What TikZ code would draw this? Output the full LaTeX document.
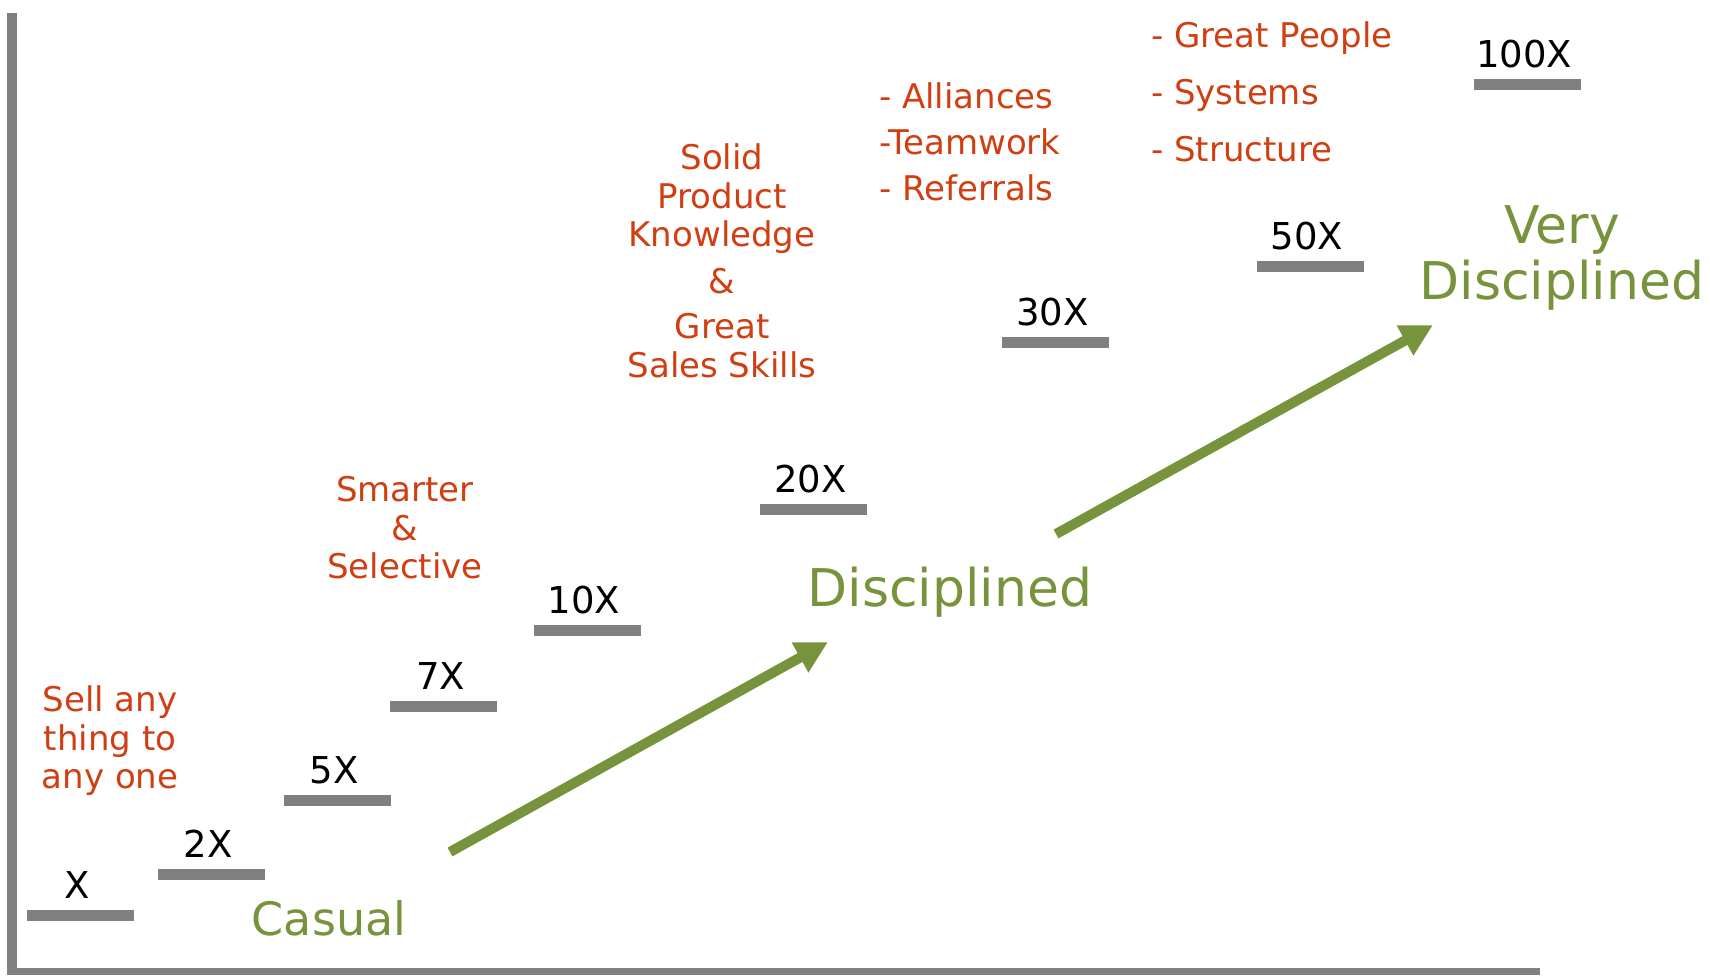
\documentclass[tikz,border=0pt]{standalone}
\usepackage{fontspec}
\setmainfont{DejaVu Sans}
\usetikzlibrary{positioning, arrows.meta}

\definecolor{stepgray}{RGB}{128,128,128}
\definecolor{noteorange}{RGB}{208,62,18}
\definecolor{stageolive}{RGB}{119,147,60}

\begin{document}
\begin{tikzpicture}[%
		x=1pt, y=-1pt,
		node distance=11pt,
		stepbar/.style={
			rectangle,
			fill=stepgray,
			minimum width=107pt,
			minimum height=11pt,
			inner sep=0pt
		},
		steplabel/.style={
			font=\fontsize{37}{40}\selectfont,
			inner sep=0pt,
			text depth=0pt,
			xshift=-3pt
		},
		note/.style={
			font=\fontsize{34}{38.5}\selectfont,
			text=noteorange,
			align=center
		},
		notelist/.style={
			font=\fontsize{34}{46}\selectfont,
			text=noteorange,
			align=left,
			anchor=west,
			inner sep=0pt
		},
		stage/.style={
			font=\fontsize{52}{56}\selectfont,
			text=stageolive,
			align=center
		},
		growth/.style={
			line width=10pt,
			stageolive,
			-{Triangle[length=32pt,width=32pt]}
		},
		axis/.style={
			stepgray
		}]

		\useasboundingbox (0,0) rectangle (1710,975);

		% AXES

		\coordinate (top) at (12,13);
		\coordinate (origin) at (12,975);
		\coordinate (horigin) at (7,971);
		\coordinate (right) at (1540,971);
		\draw[axis, line width=10pt] (top) -- (origin);
		\draw[axis, line width=7pt] (horigin) -- (right);

		% STEPS

		\node (s1) [stepbar] at (80.5,915) {};
		\node (s2) [stepbar] at (211,874) {};
		\node (s5) [stepbar] at (337,800) {};
		\node (s7) [stepbar] at (443.5,706) {};
		\node (s10) [stepbar] at (587,630) {};
		\node (s20) [stepbar] at (813.5,509) {};
		\node (s30) [stepbar] at (1055.5,342) {};
		\node (s50) [stepbar] at (1310,266) {};
		\node (s100) [stepbar] at (1527,84) {};

		\node (s1-lbl) [steplabel, above=of s1] {X};
		\node (s2-lbl) [steplabel, above=of s2] {2X};
		\node (s5-lbl) [steplabel, above=of s5] {5X};
		\node (s7-lbl) [steplabel, above=of s7] {7X};
		\node (s10-lbl) [steplabel, above=of s10] {10X};
		\node (s20-lbl) [steplabel, above=of s20] {20X};
		\node (s30-lbl) [steplabel, above=of s30] {30X};
		\node (s50-lbl) [steplabel, above=of s50] {50X};
		\node (s100-lbl) [steplabel, above=of s100] {100X};

		% NOTES

		\node (sell) [note] at (110,741) {Sell any\\thing to\\any one};
		\node (smart) [note] at (405,528) {Smarter\\\&\\Selective};
		\node (solid) [note] at (722,261) {Solid\\Product\\Knowledge\\[8pt]\&\\[7pt]Great\\Sales Skills};
		\node (alliances) [notelist] at (879,142) {- Alliances\\-Teamwork\\- Referrals};
		\node (people) [notelist, font=\fontsize{34}{57}\selectfont] at (1151,92) {- Great People\\- Systems\\- Structure};

		% STAGES

		\node (casual) [stage, font=\fontsize{46}{50}\selectfont] at (329,918) {Casual};
		\node (disc) [stage] at (950,592) {Disciplined};
		\node (vdisc) [stage] at (1562,258) {Very\\Disciplined};

		\coordinate (g1-from) at (450,852);
		\coordinate (g1-to) at (828,642);
		\coordinate (g2-from) at (1056,534);
		\coordinate (g2-to) at (1433,325);
		\draw[growth] (g1-from) -- (g1-to);
		\draw[growth] (g2-from) -- (g2-to);
\end{tikzpicture}
\end{document}
